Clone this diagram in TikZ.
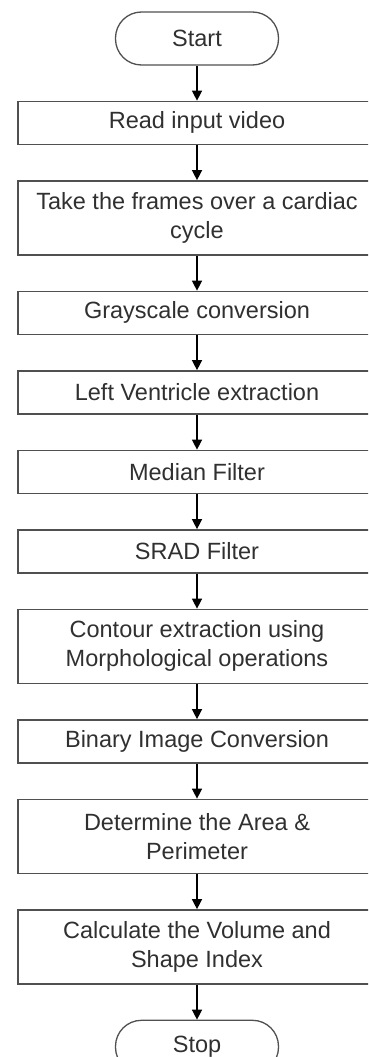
\documentclass[tikz,border=0pt]{standalone}
\usepackage{fontspec}
\setmainfont{Liberation Sans}
\usetikzlibrary{positioning, arrows.meta}
\definecolor{linegray}{HTML}{505050}
\definecolor{textgray}{HTML}{303030}
\tikzstyle{startstop} = [rectangle, rounded corners=26pt, minimum width=163pt, minimum height=53pt, text centered, draw=linegray, line width=1.3pt, text=textgray, font=\fontsize{23.5}{29}\selectfont]
\tikzstyle{process} = [rectangle, minimum width=358pt, minimum height=43pt, align=center, draw=linegray, line width=1.5pt, text=textgray, font=\fontsize{23.5}{29}\selectfont]
\tikzstyle{twoline} = [process, minimum height=74pt]
\tikzstyle{arrow} = [line width=1.4pt, -{Triangle[length=10pt, width=10pt]}, black]

\begin{document}
\begin{tikzpicture}[node distance=35pt]
        \useasboundingbox (0,0) rectangle (368pt,-1057pt);
        \clip (0,0) rectangle (368pt,-1057pt);
        \node (start) [startstop] at (197pt,-38.5pt) {Start};
        \node (read) [process, below=of start] {Read input video};
        \node (frames) [twoline, below=of read] {Take the frames over a cardiac\\cycle};
        \node (gray) [process, below=of frames] {Grayscale conversion};
        \node (lv) [process, below=of gray] {Left Ventricle extraction};
        \node (median) [process, below=of lv] {Median Filter};
        \node (srad) [process, below=of median] {SRAD Filter};
        \node (contour) [twoline, below=of srad] {Contour extraction using\\Morphological operations};
        \node (binary) [process, below=of contour] {Binary Image Conversion};
        \node (area) [twoline, below=of binary] {Determine the Area \&\\Perimeter};
        \node (volume) [twoline, below=of area] {Calculate the Volume and\\Shape Index};
        \node (stop) [startstop, below=of volume] {Stop};
        \draw [arrow] (start) -- (read);
        \draw [arrow] (read) -- (frames);
        \draw [arrow] (frames) -- (gray);
        \draw [arrow] (gray) -- (lv);
        \draw [arrow] (lv) -- (median);
        \draw [arrow] (median) -- (srad);
        \draw [arrow] (srad) -- (contour);
        \draw [arrow] (contour) -- (binary);
        \draw [arrow] (binary) -- (area);
        \draw [arrow] (area) -- (volume);
        \draw [arrow] (volume) -- (stop);
    \end{tikzpicture}
\end{document}
